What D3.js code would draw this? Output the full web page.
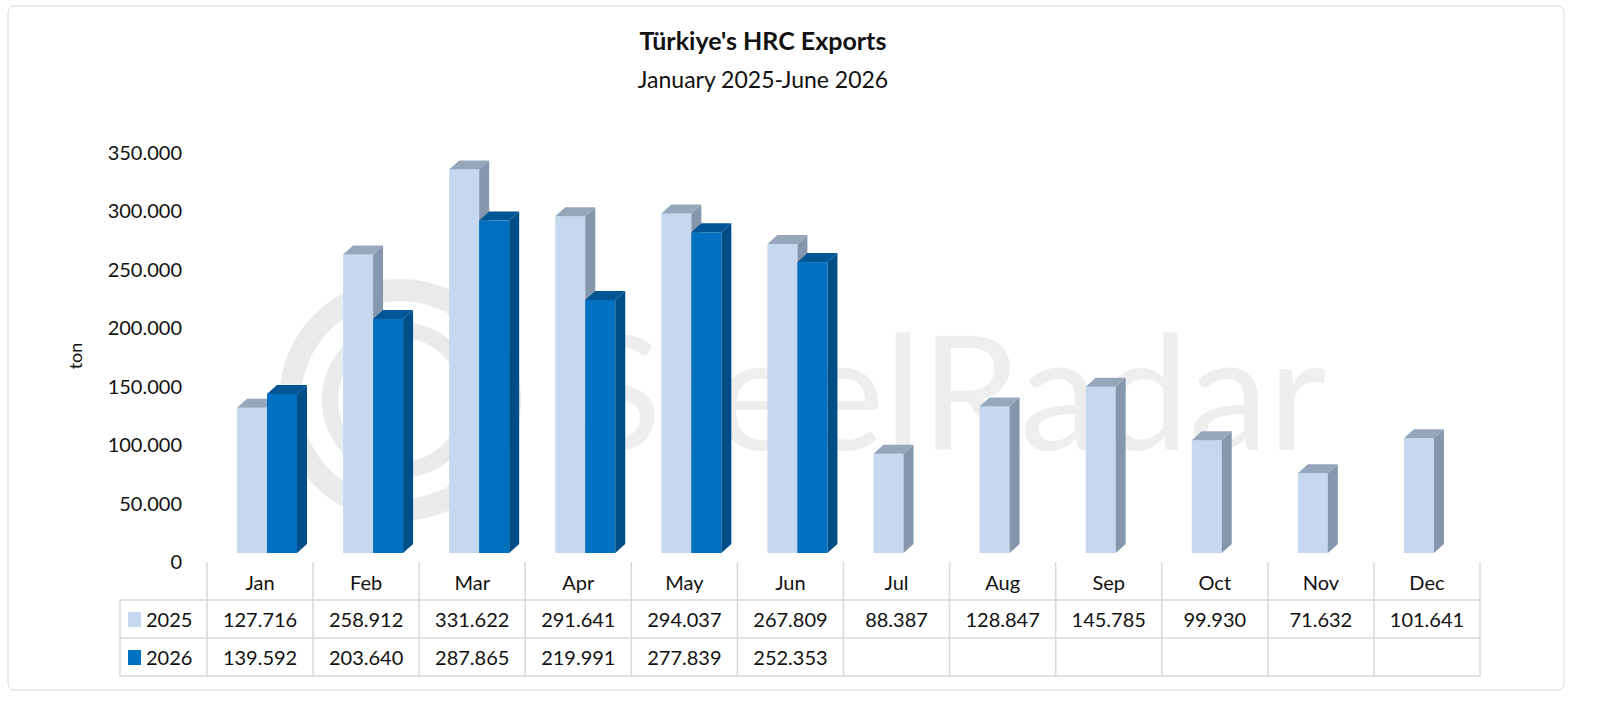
<!DOCTYPE html>
<html><head><meta charset="utf-8">
<script src="https://cdn.jsdelivr.net/npm/d3@7"></script>
<style>body{margin:0;background:#fff}svg{font-family:Lato,"Open Sans",sans-serif}</style>
</head><body><svg id="c" width="1600" height="706"></svg>
<script>
const months=["Jan","Feb","Mar","Apr","May","Jun","Jul","Aug","Sep","Oct","Nov","Dec"];
const s2025=[127716,258912,331622,291641,294037,267809,88387,128847,145785,99930,71632,101641];
const s2026=[139592,203640,287865,219991,277839,252353,null,null,null,null,null,null];
const yTicks=[0,50000,100000,150000,200000,250000,300000,350000];
const series=[{name:"2025",vals:s2025,front:"#c6d7f0",side:"#8697ad",top:"#97a7bb"},
              {name:"2026",vals:s2026,front:"#0070c0",side:"#004e88",top:"#005595"}];
const svg=d3.select("#c");
const fmt=v=>v==null?"":d3.format(",")(v).replace(/,/g,".");
svg.append("rect").attr("x",8).attr("y",6).attr("width",1556).attr("height",684).attr("rx",6).attr("fill","#fff").attr("stroke","#d9d9d9");
const wm=svg.append("g").attr("opacity",0.13).attr("fill","none").attr("stroke","#666");
wm.append("circle").attr("cx",400).attr("cy",400).attr("r",110).attr("stroke-width",22);
wm.append("circle").attr("cx",400).attr("cy",400).attr("r",70).attr("stroke-width",16);
svg.append("text").attr("x",575).attr("y",450).attr("font-size",160).attr("fill","#999").attr("opacity",0.16).text("SteelRadar");
svg.append("text").attr("x",763).attr("y",50).attr("text-anchor","middle").attr("font-size",25).attr("font-weight","bold").attr("fill","#111").text("Türkiye's HRC Exports");
svg.append("text").attr("x",763).attr("y",88).attr("text-anchor","middle").attr("font-size",23).attr("fill","#111").text("January 2025-June 2026");
const y=d3.scaleLinear().domain([0,350000]).range([562,153]);
const x=d3.scaleBand().domain(months).range([207,1480]);
svg.append("g").selectAll("text").data(yTicks).join("text").attr("x",182).attr("y",d=>y(d)+7).attr("text-anchor","end").attr("font-size",20).attr("fill","#111").text(fmt);
svg.append("text").attr("transform","translate(82,356) rotate(-90)").attr("text-anchor","middle").attr("font-size",18).attr("fill","#111").text("ton");
const bw=30,dx=10,dy=9;
series.forEach((s,si)=>{
  const g=svg.append("g");
  months.forEach((m,i)=>{
    const v=s.vals[i]; if(v==null) return;
    const x0=x(m)+30+si*bw, yb=553, yt=553-(562-y(v))+4;
    g.append("rect").attr("x",x0).attr("y",yt).attr("width",bw).attr("height",yb-yt).attr("fill",s.front);
    g.append("path").attr("d",`M${x0+bw},${yt}L${x0+bw+dx},${yt-dy}L${x0+bw+dx},${yb-dy}L${x0+bw},${yb}Z`).attr("fill",s.side);
    g.append("path").attr("d",`M${x0},${yt}L${x0+dx},${yt-dy}L${x0+bw+dx},${yt-dy}L${x0+bw},${yt}Z`).attr("fill",s.top);
  });
});
const tg=svg.append("g").attr("stroke","#d9d9d9").attr("stroke-width",1.5);
const rows=[562,600,638,676];
[600,638,676].forEach(r=>tg.append("line").attr("x1",120).attr("x2",1480).attr("y1",r).attr("y2",r));
tg.append("line").attr("x1",120).attr("x2",120).attr("y1",600).attr("y2",676);
months.forEach(m=>tg.append("line").attr("x1",x(m)).attr("x2",x(m)).attr("y1",562).attr("y2",676));
tg.append("line").attr("x1",1480).attr("x2",1480).attr("y1",562).attr("y2",676);
svg.append("g").selectAll("text").data(months).join("text").attr("x",m=>x(m)+x.bandwidth()/2).attr("y",590).attr("text-anchor","middle").attr("font-size",20).attr("fill","#111").text(d=>d);
series.forEach((s,si)=>{
  const ry=rows[1+si];
  svg.append("rect").attr("x",128).attr("y",ry+12).attr("width",13).attr("height",15).attr("fill",s.front);
  svg.append("text").attr("x",146).attr("y",ry+27).attr("font-size",20).attr("fill","#111").text(s.name);
  svg.append("g").selectAll("text").data(s.vals).join("text").attr("x",(d,i)=>x(months[i])+x.bandwidth()/2).attr("y",ry+27).attr("text-anchor","middle").attr("font-size",20).attr("fill","#111").text(fmt);
});
</script></body></html>
